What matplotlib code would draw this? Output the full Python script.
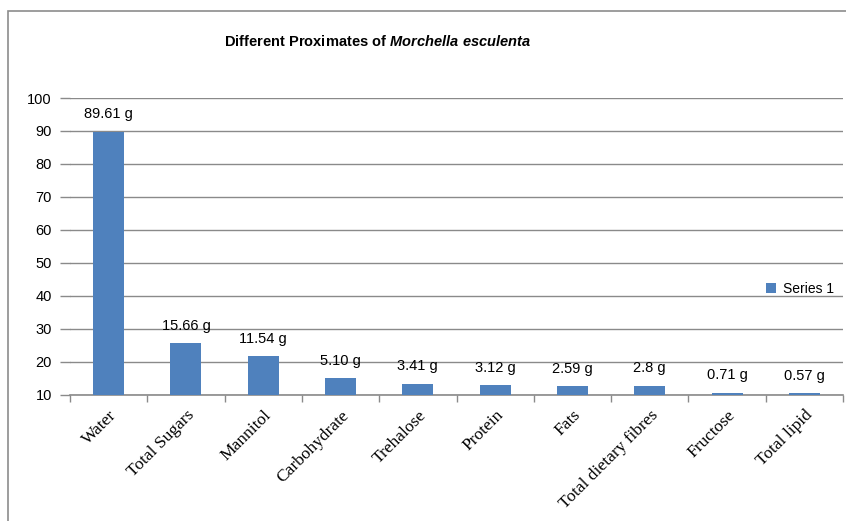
import matplotlib
matplotlib.use("Agg")
import matplotlib.pyplot as plt
from matplotlib.patches import Rectangle

categories = ["Water", "Total Sugars", "Mannitol", "Carbohydrate", "Trehalose",
              "Protein", "Fats", "Total dietary fibres", "Fructose", "Total lipid"]
bar_heights = [89.8, 25.7, 21.6, 15.0, 13.3, 12.9, 12.5, 12.7, 10.6, 10.5]
value_labels = ["89.61 g", "15.66 g", "11.54 g", "5.10 g", "3.41 g",
                "3.12 g", "2.59 g", "2.8 g", "0.71 g", "0.57 g"]
y_ticks = [10, 20, 30, 40, 50, 60, 70, 80, 90, 100]
series_name = "Series 1"

plt.rcParams['mathtext.fontset'] = 'custom'
plt.rcParams['mathtext.bf'] = 'Liberation Sans:bold'
plt.rcParams['mathtext.it'] = 'Liberation Sans:italic:bold'
plt.rcParams['mathtext.rm'] = 'Liberation Sans:bold'

W, H = 846, 521
fig = plt.figure(figsize=(W / 100, H / 100), dpi=100)
fig.patch.set_facecolor("white")

# outer chart frame
fig.add_artist(Rectangle((8 / W, -0.05), 1.1, 1 - 11 / H + 0.05, transform=fig.transFigure,
                         fill=False, edgecolor="#8c8c8c", linewidth=1.2))

left, right = 70 / W, 843 / W
bottom, top = 1 - 394.7 / H, 1 - 98 / H
ax = fig.add_axes([left, bottom, right - left, top - bottom])

color = "#4F81BD"
x = list(range(len(categories)))
bars = ax.bar(x, bar_heights, width=0.4, color=color, zorder=3, label=series_name)

ax.set_xlim(-0.5, len(categories) - 0.5)
ax.set_ylim(10, 100)
ax.set_yticks(y_ticks)
ax.set_yticklabels([str(v) for v in y_ticks], fontfamily="Liberation Sans", fontsize=10.5)
ax.yaxis.grid(True, color="#8a8a8a", linewidth=1.0, zorder=0)
ax.tick_params(axis="y", length=7, color="#8a8a8a", width=1.0, pad=6)

ax.set_xticks([i - 0.5 for i in range(len(categories) + 1)])
ax.set_xticklabels([])
ax.set_xticks(x, minor=True)
ax.set_xticklabels(categories, minor=True, rotation=45, ha="right", va="top",
                   rotation_mode="anchor", fontfamily="Liberation Serif", fontsize=12.5)
ax.tick_params(axis="x", which="major", length=5, color="#8a8a8a", width=1.0, direction="out")
ax.tick_params(axis="x", which="minor", length=0, pad=9)

for s in ["left", "right", "top"]:
    ax.spines[s].set_visible(False)
ax.spines["bottom"].set_color("#8a8a8a")
ax.spines["bottom"].set_linewidth(1.2)

for xi, h, lab in zip(x, bar_heights, value_labels):
    ax.annotate(lab, (xi, h), xytext=(0, 12.5), textcoords="offset points",
                ha="center", va="center", fontfamily="Liberation Sans", fontsize=10.5, zorder=5)

leg = ax.legend(loc="center left", bbox_to_anchor=(759 / W, 1 - 289 / H),
                bbox_transform=fig.transFigure, frameon=False,
                prop={"family": "Liberation Sans", "size": 10},
                handlelength=0.7, handleheight=0.7, handletextpad=0.5, borderpad=0)

fig.text(378 / W, 1 - 42 / H,
         r"$\mathbf{Different\ Proximates\ of}\ \mathit{Morchella\ esculenta}$",
         ha="center", va="center", fontsize=10.5)

fig.savefig("out.png", dpi=100)
